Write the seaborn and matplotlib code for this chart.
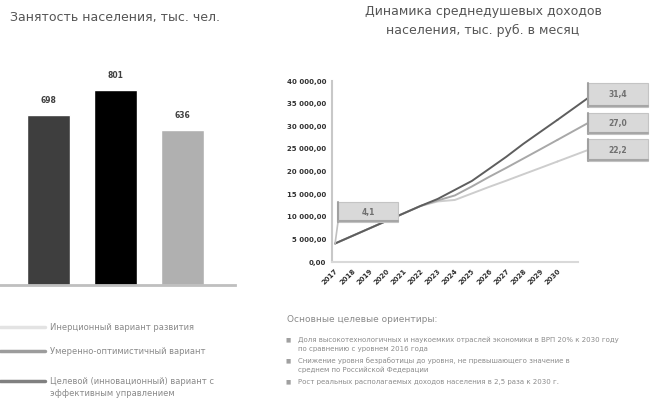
import numpy as np
import pandas as pd
import matplotlib
matplotlib.use("Agg")
import matplotlib.pyplot as plt
from matplotlib.patches import Rectangle
import seaborn as sns
from matplotlib.ticker import FuncFormatter

# --- данные ---
bar_names = ["Инерционный", "Базовый", "Целевой"]
bar_values = [698, 801, 636]
bar_colors = ["#3e3e3e", "#000000", "#b0b0b0"]

years = [str(y) for y in range(2017, 2031)]
scenarios = ["Инерционный", "Базовый", "Целевой"]
income_inert = [4090, 5750, 7410, 9070, 10730, 12390, 13380, 13710, 15150, 16590, 17960, 19380, 20790, 22210]
income_base = [4090, 5750, 7410, 9070, 10730, 12390, 13600, 14710, 16700, 18800, 20790, 22850, 24910, 26990]
income_target = [4090, 5750, 7410, 9070, 10730, 12390, 13940, 15930, 17920, 20570, 23230, 26100, 28760, 31410]
line_colors = {"Инерционный": "#cdcdcd", "Базовый": "#a8a8a8", "Целевой": "#5e5e5e"}

legend_labels = [
    "Инерционный вариант развития",
    "Умеренно-оптимистичный вариант",
    "Целевой (инновационный) вариант с\nэффективным управлением",
]
legend_colors = ["#e3e3e3", "#9c9c9c", "#808080"]

notes_title = "Основные целевые ориентиры:"
notes = [
    ("Доля высокотехнологичных и наукоемких отраслей экономики в ВРП 20% к 2030 году",
     "по сравнению с уровнем 2016 года"),
    ("Снижение уровня безработицы до уровня, не превышающего значение в",
     "среднем по Российской Федерации"),
    ("Рост реальных располагаемых доходов населения в 2,5 раза к 2030 г.", ""),
]

sns.set_theme(style="white")
plt.rcParams["font.family"] = ["DejaVu Sans"]

W, H = 652, 401
fig = plt.figure(figsize=(W / 100, H / 100), dpi=100)


def box(l, t, r, b):
    # пиксели (от верхнего левого угла) -> доли фигуры
    return [l / W, 1 - b / H, (r - l) / W, (b - t) / H]


def fx(x):
    return x / W


def fy(y):
    return 1 - y / H


# --- левый график: занятость ---
fig.text(fx(10), fy(18), "Занятость населения, тыс. чел.", fontsize=9,
         color="#555555", va="center", ha="left")

ax1 = fig.add_axes(box(0, 60, 235, 285))
bdf = pd.DataFrame({"name": bar_names, "value": bar_values})
sns.barplot(data=bdf, x="name", y="value", hue="name", palette=bar_colors,
            width=0.64, legend=False, ax=ax1, saturation=1)
ax1.set_xlim(-0.73, 2.78)
ax1.set_ylim(0, 924)
for i, v in enumerate(bar_values):
    ax1.text(i, v + 60, str(v), ha="center", va="center", fontsize=5.5,
             fontweight="bold", color="#404040")
for s in ["top", "left", "right"]:
    ax1.spines[s].set_visible(False)
ax1.spines["bottom"].set_color("#bfbfbf")
ax1.spines["bottom"].set_linewidth(2)
ax1.set_xticks([])
ax1.set_yticks([])
ax1.set_xlabel("")
ax1.set_ylabel("")

# легенда снизу слева
leg_y = [327, 351, 381]
for lab, col, y in zip(legend_labels, legend_colors, leg_y):
    fig.add_artist(plt.Line2D([0, fx(45)], [fy(y)] * 2, color=col, lw=2.5))
    if "\n" in lab:
        fig.text(fx(50), fy(y - 4), lab, fontsize=6, color="#8a8a8a",
                 va="top", ha="left", linespacing=1.4)
    else:
        fig.text(fx(50), fy(y), lab, fontsize=6, color="#8a8a8a",
                 va="center", ha="left")

# --- правый график: доходы ---
fig.text(fx(483), fy(21),
         "Динамика среднедушевых доходов\nнаселения, тыс. руб. в месяц",
         fontsize=9, color="#555555", ha="center", va="center", linespacing=1.5)

ax2 = fig.add_axes(box(332, 81, 578, 262))
rows = []
for sc, vals in zip(scenarios, [income_inert, income_base, income_target]):
    for i, v in enumerate(vals):
        rows.append({"pos": i, "value": v, "scenario": sc})
ldf = pd.DataFrame(rows)
sns.lineplot(data=ldf, x="pos", y="value", hue="scenario", hue_order=scenarios,
             palette=line_colors, linewidth=1.4, legend=False, ax=ax2)
ax2.set_xlim(-0.18, 14.2)
ax2.set_ylim(0, 40000)
ax2.set_yticks(np.arange(0, 40001, 5000))
ax2.yaxis.set_major_formatter(FuncFormatter(
    lambda v, p: f"{v:,.2f}".replace(",", " ").replace(".", ",")))
ax2.set_xticks(range(len(years)))
ax2.set_xticklabels(years, rotation=45, ha="right", rotation_mode="anchor")
ax2.tick_params(axis="both", labelsize=5, colors="#303030", length=2, width=0.6,
                pad=2)
ax2.tick_params(axis="x", color="#c0c0c0")
ax2.tick_params(axis="y", color="#c0c0c0")
for lbl in ax2.get_xticklabels() + ax2.get_yticklabels():
    lbl.set_fontweight("bold")
for s in ["top", "right"]:
    ax2.spines[s].set_visible(False)
ax2.spines["left"].set_color("#c8c8c8")
ax2.spines["left"].set_linewidth(1.5)
ax2.spines["bottom"].set_color("#d9d9d9")
ax2.spines["bottom"].set_linewidth(1.5)
ax2.set_xlabel("")
ax2.set_ylabel("")
ax2.grid(False)


def fmt_k(v):
    return f"{v / 1000:.1f}".replace(".", ",")


def label_box(l, t, r, b, text):
    fig.add_artist(Rectangle((fx(l), fy(b)), fx(r - l), (b - t) / H,
                             transform=fig.transFigure, facecolor="#d9d9d9",
                             edgecolor="#c4c4c4", lw=0.8))
    fig.add_artist(plt.Line2D([fx(l), fx(l)], [fy(b), fy(t)], color="#a0a0a0", lw=1.5))
    fig.add_artist(plt.Line2D([fx(l), fx(r)], [fy(b - 1), fy(b - 1)], color="#a6a6a6", lw=1.5))
    fig.text(fx((l + r) / 2), fy((t + b) / 2), text, fontsize=5.5, color="#707070",
             ha="center", va="center", fontweight="bold")


# подписи в конце линий
end_boxes = [(83, 107, 98), (113, 134, 123), (139, 161, 150)]
for sc, vals, (t, b, yc) in zip(["Целевой", "Базовый", "Инерционный"],
                                [income_target, income_base, income_inert], end_boxes):
    ax2.annotate("", xy=(len(vals) - 1, vals[-1]), xycoords="data",
                 xytext=(588, H - yc), textcoords="figure pixels",
                 arrowprops=dict(arrowstyle="-", color=line_colors[sc], lw=1.4,
                                 shrinkA=0, shrinkB=0),
                 annotation_clip=False)
    label_box(588, t, 648, b, fmt_k(vals[-1]))

# подпись в начале
ax2.annotate("", xy=(0, income_target[0]), xycoords="data",
             xytext=(338, H - 222), textcoords="figure pixels",
             arrowprops=dict(arrowstyle="-", color="#c0c0c0", lw=1.2,
                             shrinkA=0, shrinkB=0),
             annotation_clip=False)
label_box(338, 202, 398, 222, fmt_k(income_target[0]))

# --- текст снизу справа ---
fig.text(fx(287), fy(320), notes_title, fontsize=6.5, color="#8a8a8a",
         ha="left", va="center")
note_y = [340, 361, 382]
for (l1, l2), y in zip(notes, note_y):
    fig.text(fx(286), fy(y), "■", fontsize=4, color="#a0a0a0",
             ha="left", va="center")
    fig.text(fx(298), fy(y), l1, fontsize=5, color="#8c8c8c",
             ha="left", va="center")
    if l2:
        fig.text(fx(298), fy(y + 9), l2, fontsize=5, color="#8c8c8c",
                 ha="left", va="center")

fig.savefig("out.png", dpi=100)
